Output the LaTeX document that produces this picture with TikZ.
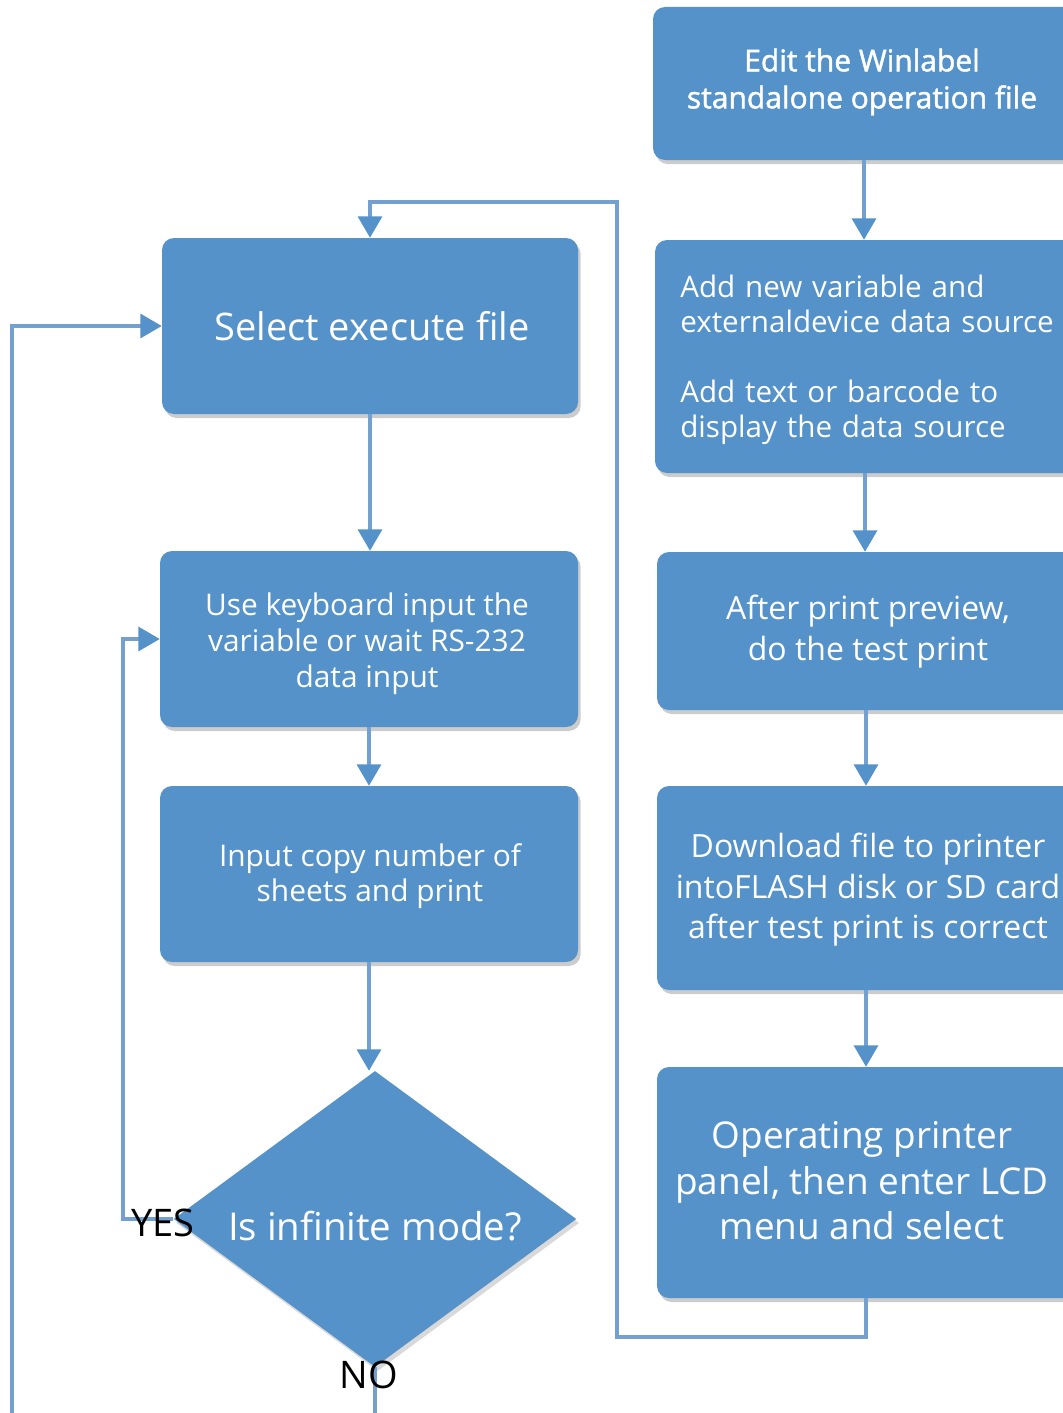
\documentclass[tikz,border=0pt]{standalone}
\usepackage{fontspec}
\setmainfont{Open Sans}
\newfontfamily\semib[FakeBold=1.5]{Open Sans}
\usetikzlibrary{arrows.meta,shapes.geometric,shadows}
\definecolor{boxblue}{RGB}{84,146,201}
\definecolor{linecol}{RGB}{116,160,208}
\begin{document}
\begin{tikzpicture}[x=0.75pt,y=-0.75pt,
  box/.style={fill=boxblue, rounded corners=9pt, inner sep=0pt,
    drop shadow={shadow xshift=2pt,shadow yshift=-3pt,opacity=0.2,fill=black}},
  dia/.style={diamond, fill=boxblue, inner sep=0pt,
    drop shadow={shadow xshift=2pt,shadow yshift=-3pt,opacity=0.15,fill=black}},
  txt/.style={text=white, align=center, inner sep=0pt},
  lbl/.style={text=black, inner sep=0pt, font=\fontsize{28.5pt}{34pt}\selectfont},
  conn/.style={draw=linecol, line width=2.3pt},
  arr/.style={conn, -{Triangle[width=18pt,length=16pt,fill=boxblue,color=boxblue]}}]
\fill[white] (0,0) rectangle (1063,1413);
\useasboundingbox (0,0) rectangle (1063,1413);

% boxes
\node[box, minimum width=316.5pt, minimum height=114.75pt] (A) at (864,83.5) {};
\node[box, minimum width=315pt, minimum height=174.75pt] (B) at (865,356.5) {};
\node[box, minimum width=313.5pt, minimum height=118.5pt] (C) at (866,631) {};
\node[box, minimum width=313.5pt, minimum height=153pt] (D) at (866,888) {};
\node[box, minimum width=313.5pt, minimum height=173.25pt] (E) at (866,1182.5) {};
\node[box, minimum width=312pt, minimum height=132pt] (F) at (370,326) {};
\node[box, minimum width=313.5pt, minimum height=132pt] (G) at (369,639) {};
\node[box, minimum width=313.5pt, minimum height=132pt] (H) at (369,874) {};
\node[dia, minimum width=302pt, minimum height=222pt] (Dm) at (375,1219) {};

% connector bend points
\coordinate (e1) at (617,1337);
\coordinate (e2) at (617,202);
\coordinate (y1) at (123,1219);
\coordinate (o1) at (12,1450);

% connectors
\draw[arr] (A.south) -- (A.south |- B.north);
\draw[arr] (B.south) -- (B.south |- C.north);
\draw[arr] (C.south) -- (C.south |- D.north);
\draw[arr] (D.south) -- (D.south |- E.north);
\draw[arr] (E.south) |- (e1) -- (e2) -| (F.north);
\draw[arr] (F.south) -- (F.south |- G.north);
\draw[arr] (G.south) -- (G.south |- H.north);
\draw[arr] (H.south) -- (H.south |- Dm.north);
\draw[arr] (Dm.west) -- (y1) |- (G.west);
\draw[arr] (Dm.south) |- (o1) |- (F.west);

% texts
\node[txt, font=\semib\fontsize{22.5pt}{27.75pt}\selectfont] (tA) at (862,82) {Edit the Winlabel\\standalone operation file};
\node[txt, align=left, anchor=west, text width=300pt, font=\fontsize{22.2pt}{26.25pt}\selectfont] (tB) at (680,360) {Add new variable and\\externaldevice data source\\[26.25pt]Add text or barcode to\\display the data source};
\node[txt, font=\fontsize{24pt}{30.75pt}\selectfont] (tC) at (868,632) {After print preview,\\do the test print};
\node[txt, font=\fontsize{24pt}{30.4pt}\selectfont] (tD) at (868,890) {Download file to printer\\intoFLASH disk or SD card\\after test print is correct};
\node[txt, font=\fontsize{27.7pt}{34.1pt}\selectfont] (tE) at (862,1181) {Operating printer\\panel, then enter LCD\\menu and select};
\node[txt, font=\fontsize{28.5pt}{34pt}\selectfont] (tF) at (372,326) {Select execute file};
\node[txt, font=\fontsize{22.4pt}{27pt}\selectfont] (tG) at (367,644) {Use keyboard input the\\variable or wait RS-232\\data input};
\node[txt, font=\fontsize{22.4pt}{26.25pt}\selectfont] (tH) at (370,876) {Input copy number of\\sheets and print};
\node[txt, font=\fontsize{28.8pt}{34pt}\selectfont] (tDm) at (375,1226) {Is infinite mode?};
\node[lbl] (yes) at (163,1223) {YES};
\node[lbl] (no) at (369,1375) {NO};
\end{tikzpicture}
\end{document}
